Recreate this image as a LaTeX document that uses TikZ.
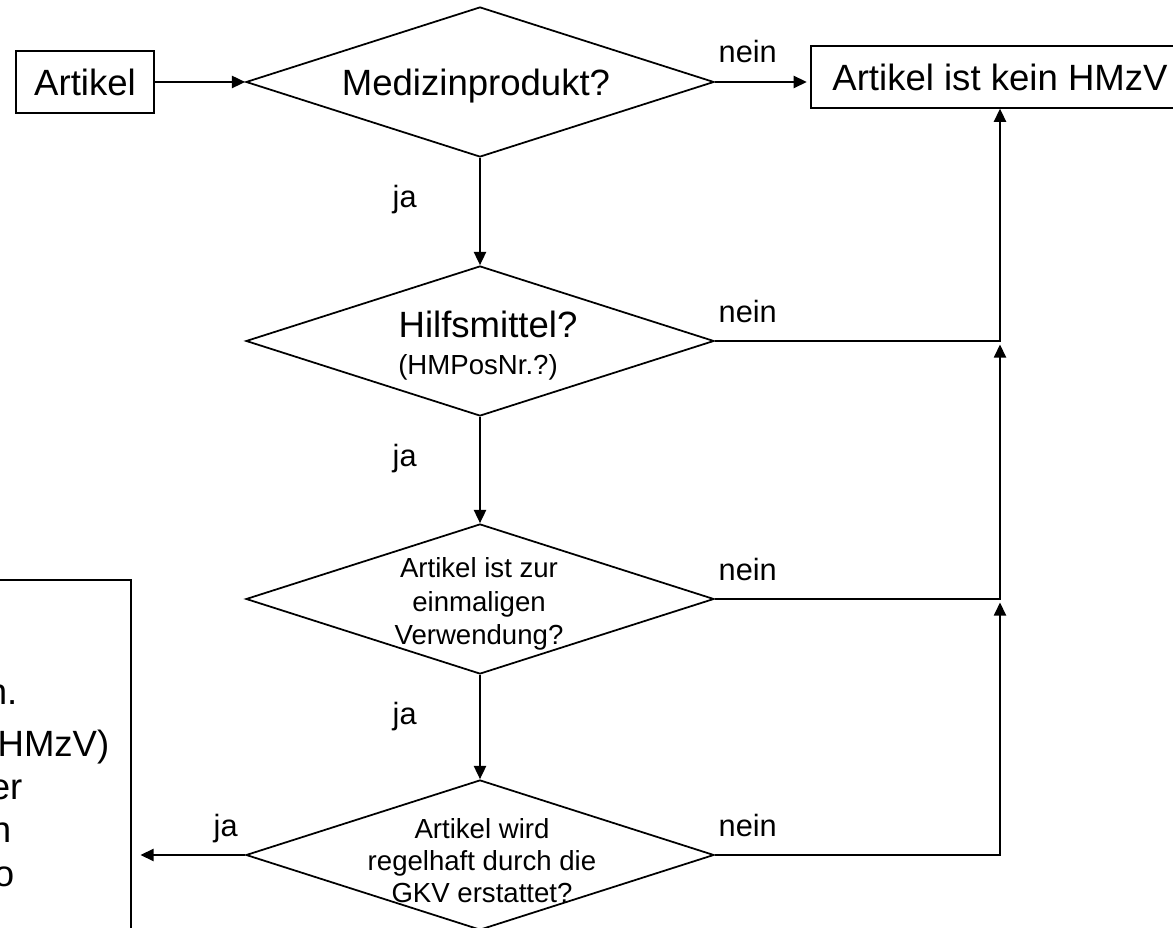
\documentclass[tikz,border=0pt]{standalone}
\usepackage{fontspec}
\setmainfont{Liberation Sans}
\usetikzlibrary{shapes.geometric,arrows.meta}

\begin{document}
\begin{tikzpicture}[
	line width=0.8pt,
	kasten/.style={draw, rectangle, inner sep=0pt, minimum height=1.24cm, font=\fontsize{20.8}{25}\selectfont},
	raute/.style={draw, diamond, inner sep=0pt, minimum width=9.36cm, minimum height=3cm, line width=1pt},
	gross/.style={font=\fontsize{20.8}{25}\selectfont},
	frage/.style={align=center, inner sep=0pt},
	beschr/.style={font=\fontsize{17.5}{21}\selectfont, anchor=base west, inner sep=0pt},
	rest/.style={font=\fontsize{20.8}{25}\selectfont, anchor=base east, inner sep=0pt},
	pfeil/.style={-{Triangle[length=7.5pt,width=7pt]}},
	]
				
				\useasboundingbox (0,0) rectangle (23.46,18.56);
				
				%				\draw[blue, very thick] (0,0) rectangle (3,2);
				\draw (1.70,16.92) node[kasten, minimum width=2.76cm] (art) {Artikel};
				\draw (20.00,17.02) node[kasten, minimum width=7.56cm] (kein) {Artikel ist kein HMzV};
				\draw (-1.69,2.48) node[draw, minimum width=8.62cm, minimum height=8.96cm] (erg) {};
				
				\draw (9.60,16.92) node[raute] (d1) {};
				\draw (9.60,11.74) node[raute] (d2) {};
				\draw (9.60,6.58) node[raute] (d3) {};
				\draw (9.60,1.46) node[raute] (d4) {};
				
				\draw (9.52,16.83) node[gross] (t1) {Medizinprodukt?};
				\draw (9.76,11.80) node[gross, anchor=base, inner sep=0pt] (t2a) {Hilfsmittel?};
				\draw (9.56,11.06) node[anchor=base, inner sep=0pt, font=\fontsize{15.7}{19}\selectfont] (t2b) {(HMPosNr.?)};
				\draw (9.58,6.48) node[frage, font=\fontsize{15.7}{19.1}\selectfont] (t3) {Artikel ist zur\\einmaligen\\Verwendung?};
				\draw (9.64,1.34) node[frage, font=\fontsize{15.7}{18.2}\selectfont] (t4) {Artikel wird\\regelhaft durch die\\GKV erstattet?};
				
				\draw (14.36,17.30) node[beschr] (n1) {nein};
				\draw (14.36,12.10) node[beschr] (n2) {nein};
				\draw (14.36,6.94) node[beschr] (n3) {nein};
				\draw (14.36,1.82) node[beschr] (n4) {nein};
				\draw (7.84,14.40) node[beschr] (j1) {ja};
				\draw (7.84,9.22) node[beschr] (j2) {ja};
				\draw (7.84,4.06) node[beschr] (j3) {ja};
				\draw (4.26,1.82) node[beschr] (j4) {ja};
				
				\draw (0.36,4.46) node[rest] (r1) {n.};
				\draw (2.20,3.42) node[rest] (r2) {(HMzV)};
				\draw (0.46,2.56) node[rest] (r3) {er};
				\draw (0.24,1.70) node[rest] (r4) {n};
				\draw (0.30,0.82) node[rest] (r5) {o};
				
				\coordinate (k2) at (d2.east -| kein.south);
				\coordinate (k3) at (d3.east -| kein.south);
				\draw[pfeil] (art) -- (d1);
				\draw[pfeil, shorten >=2pt] (d1.east) -- (d1.east -| kein.west);
				\draw[pfeil] (d1) -- (d2);
				\draw[pfeil] (d2) -- (d3);
				\draw[pfeil] (d3) -- (d4);
				\draw[pfeil] (d2.east) -| (kein.south);
				\draw[pfeil, shorten >=2pt] (d3.east) -| (k2);
				\draw[pfeil, shorten >=2pt] (d4.east) -| (k3);
				\draw[pfeil, shorten >=5pt] (d4.west) -- (d4.west -| erg.east);
			\end{tikzpicture}
\end{document}
